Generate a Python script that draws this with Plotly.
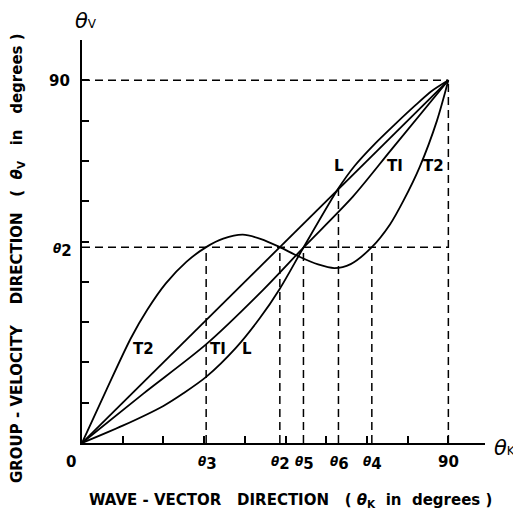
import plotly.graph_objects as go

# ---------------- data ----------------
diag_k = [0, 90]
diag_v = [0, 90]

t1_k = [0, 15, 30.4, 44.5, 54.4, 66.6, 76, 90]
t1_v = [0, 12.2, 24.4, 38.0, 48.5, 61.2, 72.8, 90]

l_k = [0, 10, 20, 25, 30.5, 37.8, 43.7, 48.6, 54.4, 63, 67, 72, 77, 82, 86, 90]
l_v = [0, 4.3, 9.2, 12.4, 16.4, 23.6, 31.0, 38.3, 48.5, 63.2, 68.8, 74.3, 79.2, 83.9, 87.4, 90]

t2_k = [0, 6, 12, 16, 20.6, 25.7, 30.5, 34.7, 39.5, 44, 48.6, 53, 58, 62, 66, 71.2, 75.7, 79, 83, 87.2, 90]
t2_v = [0, 13.2, 26, 33, 39.6, 45.0, 48.6, 50.7, 51.7, 50.6, 48.6, 46.4, 44.3, 43.4, 44.4, 48.6, 54.3, 60.2, 68.6, 80.0, 90]

theta2 = 48.6
marker_names = ["3", "2", "5", "6", "4"]
marker_k = [30.5, 48.6, 54.4, 63.0, 71.2]
marker_top = [48.6, 48.6, 48.6, 63.2, 48.6]

tick_vals = [10, 20, 30, 40, 50, 60, 70, 80, 90]

# ---------------- layout geometry ----------------
OFF = 8  # default page margin of the html body
W, H = 521 - OFF, 514 - OFF
LP, RP, TP, BP = 82, 485, 40, 443   # plot area in window pixels
X_RANGE = [0, 99]
Y_RANGE = [0, 100]
FONT = "DejaVu Sans"


def paper(xp, yp):
    return (xp - LP) / (RP - LP), (BP - yp) / (BP - TP)


fig = go.Figure()

for k, v in [(diag_k, diag_v), (t1_k, t1_v), (l_k, l_v), (t2_k, t2_v)]:
    fig.add_trace(go.Scatter(
        x=k, y=v, mode="lines",
        line=dict(color="black", width=1.8, shape="spline", smoothing=0.8),
        hoverinfo="skip", showlegend=False,
    ))

dash = "8px,5px"
dline = dict(color="black", width=1.5, dash=dash)
shapes = [
    dict(type="line", xref="x", yref="y", x0=0, x1=90, y0=90, y1=90, line=dline, layer="below"),
    dict(type="line", xref="x", yref="y", x0=90, x1=90, y0=0, y1=90, line=dline, layer="below"),
    dict(type="line", xref="x", yref="y", x0=0, x1=90, y0=theta2, y1=theta2, line=dline, layer="below"),
]
for k, top in zip(marker_k, marker_top):
    shapes.append(dict(type="line", xref="x", yref="y", x0=k, x1=k, y0=0, y1=top,
                       line=dline, layer="below"))

ann = []


def add_text(text, xp, yp, size, angle=0, weight="bold"):
    px_, py_ = paper(xp, yp)
    ann.append(dict(text=text, x=px_, y=py_, xref="paper", yref="paper",
                    xanchor="center", yanchor="middle", showarrow=False,
                    textangle=angle,
                    font=dict(family=FONT, size=size, color="black", weight=weight)))


def theta_label(digit):
    return ("<i>θ</i><sub><span style='font-size:15px'>" + digit + "</span></sub>")


# curve labels
add_text("T2", 143, 349, 15)
add_text("TI", 218, 349, 15)
add_text("L", 247, 349, 15)
add_text("L", 339, 166, 15)
add_text("TI", 395, 166, 15)
add_text("T2", 433, 166, 15)

# x tick labels
add_text("0", 71, 462, 15)
add_text("90", 448, 462, 15)
for name, k in zip(marker_names, marker_k):
    xp = LP + k * (RP - LP) / X_RANGE[1]
    add_text(theta_label(name), xp + 1, 464, 12)

# y tick labels
add_text("90", 59, 81, 15)
add_text(theta_label("2"), 62, 251, 12)

# axis symbols
add_text("<i>θ</i><span style='font-size:12px'>V</span>", 86, 21, 21, weight="normal")
add_text("<i>θ</i><span style='font-size:12px'>K</span>", 505, 448, 21, weight="normal")

# axis titles
nb = "&nbsp;"
xt = ("WAVE" + nb + "-" + nb + "VECTOR" + nb * 3 + "DIRECTION" + nb * 3 + "(" + nb
      + "<i>θ</i><sub>K</sub>" + nb * 2 + "in" + nb * 2 + "degrees" + nb + ")")
yt = ("GROUP" + nb + "-" + nb + "VELOCITY" + nb * 4 + "DIRECTION" + nb * 3 + "(" + nb * 2
      + "<i>θ</i><sub>V</sub>" + nb * 3 + "in" + nb * 3 + "degrees" + nb + ")")
add_text(xt, 290, 500, 15)
add_text(yt, 17, 258, 15, angle=-90)

axis_common = dict(showline=True, linecolor="black", linewidth=2, ticks="inside",
                   tickvals=tick_vals, ticklen=7, tickwidth=1.5, tickcolor="black",
                   showticklabels=False, showgrid=False, zeroline=False, fixedrange=True)

fig.update_layout(
    width=W, height=H, autosize=False,
    margin=dict(l=LP - OFF, r=521 - RP, t=TP - OFF, b=514 - BP, pad=0),
    paper_bgcolor="white", plot_bgcolor="white",
    xaxis=dict(range=X_RANGE, **axis_common),
    yaxis=dict(range=Y_RANGE, **axis_common),
    shapes=shapes, annotations=ann, showlegend=False,
)

fig.write_html("out.html")
